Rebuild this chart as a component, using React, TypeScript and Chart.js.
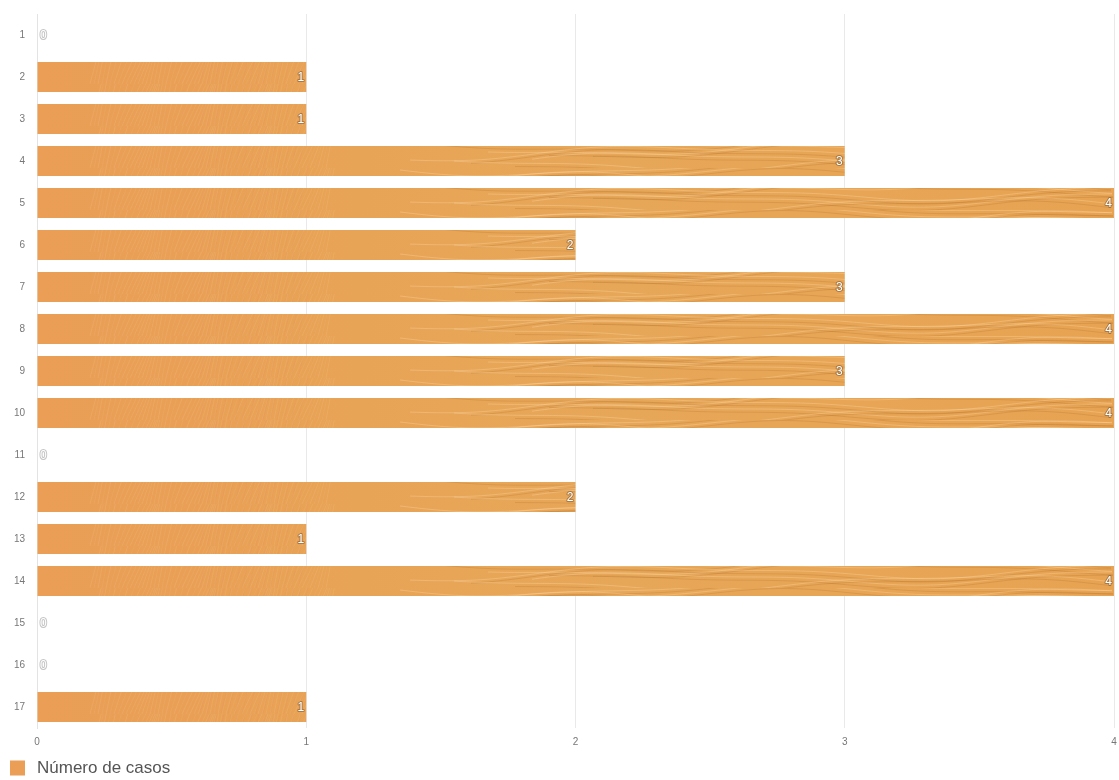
import React, { useEffect, useRef } from "react";
import { Chart, registerables } from "chart.js";

Chart.register(...registerables);

const categories = ["1", "2", "3", "4", "5", "6", "7", "8", "9", "10", "11", "12", "13", "14", "15", "16", "17"];
const casos = [0, 1, 1, 3, 4, 2, 3, 4, 3, 4, 0, 2, 1, 4, 0, 0, 1];
const xTicks = [0, 1, 2, 3, 4];
const seriesLabel = "Número de casos";

const FONT = "'Liberation Sans', Arial, Helvetica, sans-serif";

// Wood-grain fill used for the bars and the legend swatch.
function makeWoodPattern(ctx: CanvasRenderingContext2D): CanvasPattern | string {
  const w = 1119;
  const h = 42;
  const c = document.createElement("canvas");
  c.width = w;
  c.height = h;
  const g = c.getContext("2d");
  if (!g) return "#e7a454";
  const grad = g.createLinearGradient(37, 0, 1114, 0);
  grad.addColorStop(0, "#ea9e56");
  grad.addColorStop(0.15, "#e9a056");
  grad.addColorStop(0.3, "#e8a456");
  grad.addColorStop(0.55, "#e7a758");
  grad.addColorStop(1, "#e7a352");
  g.fillStyle = grad;
  g.fillRect(0, 0, w, h);

  // fine diagonal fibres on the left section
  g.lineWidth = 1;
  for (let x = 90; x < 330; x += 4) {
    const a = 0.06 + 0.06 * Math.abs(Math.sin(x * 0.37));
    g.strokeStyle = `rgba(255,232,195,${a})`;
    g.beginPath();
    g.moveTo(x, h);
    g.lineTo(x + 14 + 6 * Math.sin(x * 0.11), 0);
    g.stroke();
  }
  for (let x = 200; x < 300; x += 7) {
    g.strokeStyle = "rgba(225,120,110,0.08)";
    g.beginPath();
    g.moveTo(x, h);
    g.lineTo(x + 10, 0);
    g.stroke();
  }
  // wavy grain in the middle and right sections
  for (let k = 0; k < 16; k++) {
    const y0 = 2 + k * 2.7;
    const start = 400 + ((k * 61) % 200);
    g.strokeStyle = k % 2 ? "rgba(160,95,35,0.2)" : "rgba(255,230,190,0.28)";
    g.beginPath();
    for (let x = start; x < 1114; x += 4) {
      const t = (x - start) * 0.012 + k * 0.8;
      const y = y0 + 6 * Math.sin(t) + 2 * Math.sin(t * 2.3) - (x - start) * 0.008;
      if (x === start) g.moveTo(x, y);
      else g.lineTo(x, y);
    }
    g.stroke();
  }
  return ctx.createPattern(c, "repeat") || "#e7a454";
}

const valueLabels = {
  id: "valueLabels",
  afterDatasetsDraw(chart: any) {
    const ctx = chart.ctx;
    const meta = chart.getDatasetMeta(0);
    ctx.save();
    ctx.font = `12px ${FONT}`;
    ctx.textBaseline = "middle";
    ctx.lineJoin = "round";
    meta.data.forEach((bar: any, i: number) => {
      const v = casos[i];
      const text = String(v);
      let x: number;
      if (v > 0) {
        ctx.textAlign = "right";
        x = bar.x - 2;
      } else {
        ctx.textAlign = "left";
        x = bar.x + 3;
      }
      ctx.lineWidth = 2;
      ctx.strokeStyle = v > 0 ? "rgba(110,80,50,0.5)" : "rgba(150,150,150,0.55)";
      ctx.strokeText(text, x, bar.y + 1);
      ctx.fillStyle = "#ffffff";
      ctx.fillText(text, x, bar.y + 1);
    });
    ctx.restore();
  },
};

// Series key under the plot, using the same fill as the bars.
const seriesKey = {
  id: "seriesKey",
  afterDraw(chart: any) {
    const ctx = chart.ctx;
    const ds = chart.data.datasets[0];
    const y = 768;
    ctx.save();
    ctx.fillStyle = ds.backgroundColor;
    ctx.fillRect(10, y - 7.5, 15, 15);
    ctx.font = `17px ${FONT}`;
    ctx.fillStyle = "#555";
    ctx.textAlign = "left";
    ctx.textBaseline = "middle";
    ctx.fillText(ds.label, 37, y);
    ctx.restore();
  },
};

export default function App() {
  const canvasRef = useRef<HTMLCanvasElement | null>(null);

  useEffect(() => {
    const canvas = canvasRef.current;
    if (!canvas) return;
    const ctx = canvas.getContext("2d");
    if (!ctx) return;
    const wood = makeWoodPattern(ctx);

    const chart = new Chart(canvas, {
      type: "bar",
      data: {
        labels: categories,
        datasets: [
          {
            label: seriesLabel,
            data: casos,
            backgroundColor: wood as any,
            borderWidth: 0,
            barPercentage: 0.715,
            categoryPercentage: 1,
          },
        ],
      },
      options: {
        indexAxis: "y",
        animation: false,
        responsive: false,
        maintainAspectRatio: false,
        layout: { padding: { top: 14, right: 5, left: 0, bottom: 28 } },
        scales: {
          x: {
            min: 0,
            max: 4,
            afterBuildTicks(scale: any) {
              scale.ticks = xTicks.map((v) => ({ value: v }));
            },
            afterFit(scale: any) {
              scale.height = 24;
              scale.paddingRight = 0;
              scale.paddingLeft = 0;
            },
            grid: { color: "#e9e9e9", drawTicks: false, lineWidth: 1 },
            border: { display: false },
            ticks: {
              padding: 8,
              color: "#777",
              font: { family: FONT, size: 10 },
            },
          },
          y: {
            afterFit(scale: any) {
              scale.width = 37;
              scale.paddingTop = 0;
              scale.paddingBottom = 0;
            },
            grid: { display: false, drawTicks: false },
            border: { display: true, color: "#e3e3e3" },
            ticks: {
              padding: 12,
              color: "#777",
              font: { family: FONT, size: 10 },
            },
          },
        },
        plugins: {
          legend: { display: false },
          tooltip: { enabled: false },
        },
      },
      plugins: [valueLabels, seriesKey],
    });
    return () => chart.destroy();
  }, []);

  return (
    <div style={{ position: "absolute", left: 0, top: 0, width: 1119, height: 780, background: "#fff" }}>
      <canvas ref={canvasRef} width={1119} height={780} />
    </div>
  );
}
